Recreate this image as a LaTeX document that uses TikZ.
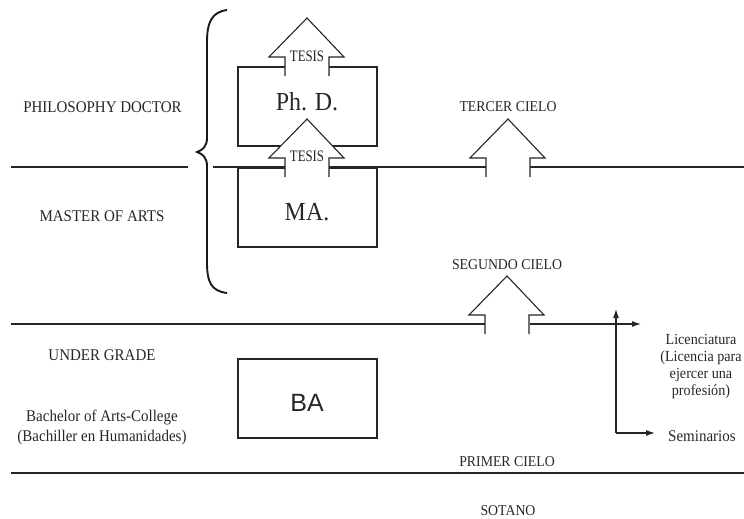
\documentclass[tikz,border=0pt]{standalone}
\usepackage{fontspec}
\usepackage{graphicx}
\setmainfont{Liberation Serif}[FakeStretch=0.92]
\newfontfamily\basans{Liberation Sans}
\usetikzlibrary{arrows.meta}
\begin{document}
\begin{tikzpicture}[x=1pt,y=-1pt,
  ln/.style={line width=1.1pt, draw=black!85},
  lab/.style={inner sep=0pt, anchor=base, text=black!85, font=\fontsize{16.3}{16.7}\selectfont},
  clab/.style={lab, font=\fontsize{15}{16}\selectfont},
  big/.style={lab, font=\fontsize{26}{27}\selectfont},
  degbox/.style={ln, draw, rectangle, inner sep=0pt, minimum width=139pt, minimum height=79pt},
  tip/.style={-{Latex[length=9pt,width=6pt]}},
  uparrow/.pic={\draw[ln, fill=white] (-22,58) -- (-22,39) -- (-38,39) -- (0,0) -- (37,39) -- (22,39) -- (22,58);}
]
\useasboundingbox (0,0) rectangle (744,519);

% horizontal levels
\coordinate (l1a) at (11,167); \coordinate (l1b) at (188,167);
\coordinate (l1c) at (213,167); \coordinate (l1d) at (744,167);
\coordinate (l2a) at (11,324); \coordinate (l2b) at (486,324);
\coordinate (l2c) at (530,324); \coordinate (lic) at (641,324);
\coordinate (l3a) at (11,473); \coordinate (l3b) at (744,473);
\draw[ln] (l1a) -- (l1b);
\draw[ln] (l1c) -- (l1d);
\draw[ln] (l2a) -- (l2b);
\draw[ln, tip] (l2c) -- (lic);
\draw[ln] (l3a) -- (l3b);

% boxes
\node[degbox] (phdbox) at (307.5,106.5) {};
\node[degbox] (mabox) at (307.5,207.5) {};
\node[degbox] (babox) at (307.5,398.5) {};

% brace
\draw[line width=1.9pt, black!90] (227,10) .. controls (212,12) and (207,22) .. (207,42)
  -- (207,138) .. controls (207,146) and (203,150) .. (197,152)
  .. controls (203,154) and (207,158) .. (207,166)
  -- (207,262) .. controls (207,282) and (211,291) .. (227,293);

% big arrows
\pic at (307,18) {uparrow};
\pic at (307,119) {uparrow};
\pic at (508,119) {uparrow};
\pic at (507,276) {uparrow};

% texts
\node[lab] (tesis1) at (307,61.5) {\scalebox{0.87}[1]{\fontsize{16}{16}\selectfont TESIS}};
\node[lab] (tesis2) at (307,161.5) {\scalebox{0.87}[1]{\fontsize{16}{16}\selectfont TESIS}};
\node[big] (phd) at (307,110) {Ph. D.};
\node[big] (ma) at (307,220.5) {MA.};
\node[lab, font=\basans\fontsize{25}{26}\selectfont] (ba) at (307,411.5) {BA};

\node[lab] (phil) at (102.5,112) {PHILOSOPHY DOCTOR};
\node[lab] (mast) at (102,221) {MASTER OF ARTS};
\node[lab] (under) at (102,360) {UNDER GRADE};
\node[lab] (bach1) at (102,421.5) {Bachelor of Arts-College};
\node[lab] (bach2) at (102,441.5) {(Bachiller en Humanidades)};

\node[clab] (tercer) at (508,111.5) {TERCER CIELO};
\node[clab] (segundo) at (507,269) {SEGUNDO CIELO};
\node[clab] (primer) at (507,466.5) {PRIMER CIELO};
\node[clab] (sotano) at (508,515) {SOTANO};

\node[lab, anchor=north, align=center, font=\fontsize{15.4}{16.7}\selectfont] (licen) at (701,334.5) {Licenciatura\\(Licencia para\\ejercer una\\profesión)};
\node[lab, anchor=base west] (semi) at (668,441.5) {Seminarios};

% side arrows
\coordinate (corner) at (616,433);
\coordinate (uptop) at (616,309);
\draw[ln, tip] (corner) -- (uptop);
\draw[ln, tip] (corner) -- (655,433);
\end{tikzpicture}
\end{document}
